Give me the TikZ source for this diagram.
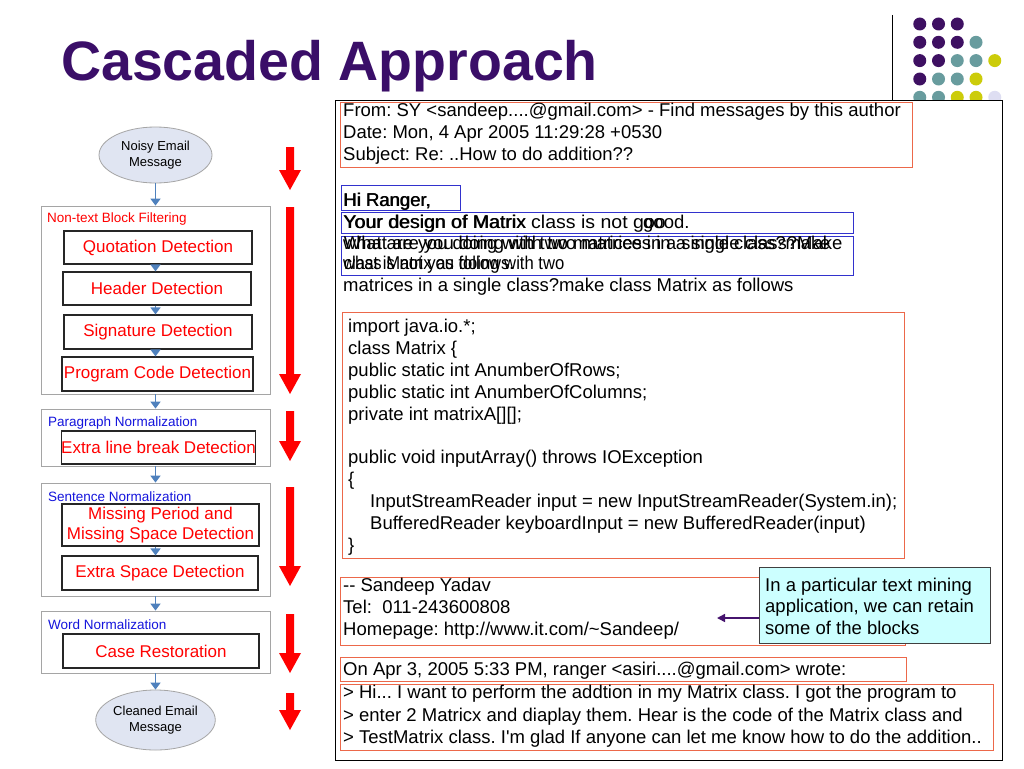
\documentclass[tikz,border=0pt]{standalone}
\usepackage{fontspec}
\setmainfont{Liberation Sans}
\usetikzlibrary{arrows.meta,shapes.geometric,calc}
\definecolor{titlepurple}{RGB}{58,14,104}
\definecolor{dotpurple}{RGB}{62,16,98}
\definecolor{dotteal}{RGB}{104,156,158}
\definecolor{dotyellow}{RGB}{204,204,10}
\definecolor{dotlav}{RGB}{222,222,242}
\definecolor{boxorange}{RGB}{236,104,74}
\definecolor{boxblue}{RGB}{50,50,205}
\definecolor{flowblue}{RGB}{79,129,189}
\definecolor{blockgray}{RGB}{165,165,165}
\definecolor{ellfill}{RGB}{224,229,242}
\definecolor{calloutfill}{RGB}{204,255,255}
\definecolor{labelblue}{RGB}{20,20,220}
\definecolor{arrowpurple}{RGB}{70,20,110}
\newcommand{\redarr}[3]{\fill[red] (#1-4,#2) -- (#1+4,#2) -- (#1+4,#3-20) -- (#1+11,#3-20) -- (#1,#3) -- (#1-11,#3-20) -- (#1-4,#3-20) -- cycle;}
\frenchspacing
\begin{document}
\begin{tikzpicture}[x=1pt,y=-1pt,
  etext/.style={anchor=base west,inner sep=0pt,font=\fontsize{18.5}{22}\selectfont},
  ellnode/.style={ellipse,draw=blockgray,fill=ellfill,line width=0.8pt,inner sep=0pt,align=center,font=\fontsize{13}{16}\selectfont},
  blockbox/.style={draw=blockgray,line width=0.8pt,minimum width=229pt,inner sep=0pt},
  stepbox/.style={draw=black!85,line width=1.1pt,fill=white,inner sep=0pt,text=red,align=center,font=\fontsize{17}{20.5}\selectfont},
  blocklabel/.style={anchor=west,inner sep=0pt,font=\fontsize{13.5}{16}\selectfont},
  flow/.style={draw=flowblue,line width=1.6pt,-{Triangle[length=7pt,width=10pt]}},
  emailframe/.style={line width=0.8pt}]
\useasboundingbox (0,0) rectangle (1024,768);
\fill[white] (0,0) rectangle (1024,768);

% title
\node[anchor=base west,inner sep=0pt,text=titlepurple,font=\fontsize{55.5}{60}\selectfont\bfseries] (title) at (61,80) {Cascaded Approach};

% decoration: line and dots
\draw[line width=0.8pt] (892,15) -- (892,100);
\foreach \c [count=\i] in {dotpurple,dotpurple,dotpurple}{\fill[\c] (901+18.75*\i,24) circle (6.5);}
\foreach \c [count=\i] in {dotpurple,dotpurple,dotpurple,dotteal}{\fill[\c] (901+18.75*\i,42.3) circle (6.5);}
\foreach \c [count=\i] in {dotpurple,dotpurple,dotteal,dotteal,dotyellow}{\fill[\c] (901+18.75*\i,60.6) circle (6.5);}
\foreach \c [count=\i] in {dotpurple,dotteal,dotteal,dotyellow}{\fill[\c] (901+18.75*\i,79) circle (6.5);}
\foreach \c [count=\i] in {dotteal,dotteal,dotyellow,dotyellow,dotlav}{\fill[\c] (901+18.75*\i,97.3) circle (6.5);}

% email frame
\draw[emailframe,fill=white] (335,100) rectangle (1002,760);

% header block
\draw[boxorange,line width=1pt] (340,102.5) rectangle (912,167);
\node[etext] (h1) at (343,116.5) {From: SY <sandeep....@gmail.com> - Find messages by this author};
\node[etext] (h2) at (343,138.5) {Date: Mon, 4 Apr 2005 11:29:28 +0530};
\node[etext] (h3) at (343,160.5) {Subject: Re: ..How to do addition??};

% greeting / overlapped text
\draw[boxblue,line width=1pt] (341,185.5) rectangle (460.5,210);
\draw[boxblue,line width=1pt] (341,212.5) rectangle (853,233.5);
\draw[boxblue,line width=1pt] (341,236.5) rectangle (853,275);
\node[etext] (g1) at (343,206) {Hi Ranger,};
\node[etext] (g1b) at (343.7,206) {Hi Ranger,};
\node[etext] (u1) at (343,228) {\scalebox{1.055}[1]{Your design of Matrix class is not goo}};
\node[etext] (o1) at (343.7,228) {\scalebox{1.055}[1]{Your design of Matrix}};
\node[etext] (u1b) at (643,228) {good.};
\node[etext] (u2) at (343,249) {\scalebox{0.985}[1]{what are you doing with two matrices in a single class?make}};
\node[etext] (o2) at (343.6,249) {What are you doing with two matrices in a single class?Make};
\node[etext] (u3) at (343,269) {\scalebox{0.9}[1]{what is not you doing with two}};
\node[etext] (o3) at (343.6,269) {\scalebox{0.9}[1]{class Matrix as follows.}};
\node[etext] (l4) at (343,291.5) {matrices in a single class?make class Matrix as follows};

% code block
\draw[boxorange,line width=1pt] (342,312.5) rectangle (904,558);
\node[etext] (c1) at (348,332) {import java.io.*;};
\node[etext] (c2) at (348,354) {class Matrix \{};
\node[etext] (c3) at (348,376) {public static int AnumberOfRows;};
\node[etext] (c4) at (348,398) {public static int AnumberOfColumns;};
\node[etext] (c5) at (348,420) {private int matrixA[][];};
\node[etext] (c6) at (348,463) {public void inputArray() throws IOException};
\node[etext] (c7) at (348,485) {\{};
\node[etext] (c8) at (370,507) {InputStreamReader input = new InputStreamReader(System.in);};
\node[etext] (c9) at (370,529) {BufferedReader keyboardInput = new BufferedReader(input)};
\node[etext] (c10) at (348,551) {\}};

% signature block
\draw[boxorange,line width=1pt] (340,577) rectangle (905,645);
\node[etext] (s1) at (343,591.5) {-{}- Sandeep Yadav};
\node[etext] (s2) at (343,613.5) {Tel:\ \ 011-243600808};
\node[etext] (s3) at (343,635.5) {Homepage: http://www.it.com/\textasciitilde Sandeep/};

% callout
\node[draw=black!75,line width=1pt,fill=calloutfill,minimum width=231pt,minimum height=76pt,inner sep=0pt] (callout) at (874.5,605) {};
\node[etext] (k1) at (765,591.5) {In a particular text mining};
\node[etext] (k2) at (765,612.5) {application, we can retain};
\node[etext] (k3) at (765,634) {some of the blocks};
\coordinate (calltip) at (717,618);
\draw[arrowpurple,line width=1.6pt,-{Triangle[length=8pt,width=8pt]}] (callout.west |- calltip) -- (calltip);

% reply header and quoted text
\draw[boxorange,line width=1pt] (340,657) rectangle (906,681.5);
\node[etext] (r0) at (343,675.5) {On Apr 3, 2005 5:33 PM, ranger <asiri....@gmail.com> wrote:};
\draw[boxorange,line width=1pt] (340,684.5) rectangle (993,750);
\node[etext] (q1) at (343,698.5) {> Hi... I want to perform the addtion in my Matrix class. I got the program to};
\node[etext] (q2) at (343,721) {> enter 2 Matricx and diaplay them. Hear is the code of the Matrix class and};
\node[etext] (q3) at (343,743.5) {> TestMatrix class. I\textquotesingle m glad If anyone can let me know how to do the addition..};

% left flow
\node[ellnode,minimum width=113pt,minimum height=56pt] (noisy) at (155.5,155) {Noisy Email\\Message};

\node[blockbox,minimum height=188pt] (nontext) at (155.5,300) {};
\node[blocklabel,text=red] (nontextlbl) at (47,219) {Non-text Block Filtering};
\node[stepbox,minimum width=188pt,minimum height=33pt] (quot) at (158,247.5) {Quotation Detection};
\node[stepbox,minimum width=188pt,minimum height=33pt] (head) at (157,288.5) {Header Detection};
\node[stepbox,minimum width=188pt,minimum height=34pt] (sig) at (158,332) {Signature Detection};
\node[stepbox,minimum width=191pt,minimum height=34pt] (prog) at (157.5,374) {Program Code Detection};

\node[blockbox,minimum height=57pt] (para) at (155.5,437.5) {};
\node[blocklabel,text=labelblue] (paralbl) at (48,423) {Paragraph Normalization};
\node[stepbox,minimum width=191pt,minimum height=33pt,fill=none] (xline) at (158.5,447.5) {Extra line break Detection};

\node[blockbox,minimum height=113pt] (sent) at (155.5,539.5) {};
\node[blocklabel,text=labelblue] (sentlbl) at (48,497) {Sentence Normalization};
\node[stepbox,minimum width=197pt,minimum height=42pt,fill=none] (miss) at (160.5,525) {Missing Period and\\Missing Space Detection};
\node[stepbox,minimum width=196pt,minimum height=34pt] (xspace) at (160,573) {Extra Space Detection};

\node[blockbox,minimum height=62pt] (word) at (155.5,642) {};
\node[blocklabel,text=labelblue] (wordlbl) at (48,625) {Word Normalization};
\node[stepbox,minimum width=196pt,minimum height=34pt] (case) at (161,651) {Case Restoration};

\node[ellnode,minimum width=119pt,minimum height=60pt] (clean) at (155.5,720) {Cleaned Email\\Message};

\draw[flow] (noisy.south) -- (noisy.south |- nontext.north);
\draw[flow] (quot.south -| noisy.south) -- (noisy.south |- head.north);
\draw[flow] (head.south -| noisy.south) -- (noisy.south |- sig.north);
\draw[flow] (sig.south -| noisy.south) -- (noisy.south |- prog.north);
\draw[flow] (nontext.south) -- (para.north);
\draw[flow] (para.south) -- (sent.north);
\draw[flow] (miss.south -| noisy.south) -- (noisy.south |- xspace.north);
\draw[flow] (sent.south) -- (word.north);
\draw[flow] (word.south) -- (clean.north);

% red arrows
\redarr{290}{147}{190}
\redarr{290}{207}{394}
\redarr{290}{411}{461}
\redarr{290}{487}{586}
\redarr{290}{614}{673}
\redarr{290}{693}{730}
\end{tikzpicture}
\end{document}
